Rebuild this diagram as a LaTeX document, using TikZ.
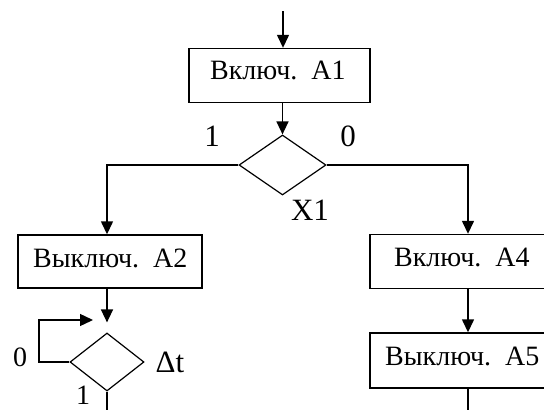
\documentclass[tikz,border=0pt]{standalone}
\usepackage{fontspec}
\setmainfont{Liberation Serif}
\usetikzlibrary{shapes.geometric,arrows.meta}
\begin{document}
\begin{tikzpicture}[x=1pt,y=-1pt,
  line/.style={line width=1.4pt},
  flow/.style={line, -{Triangle[length=13pt,width=12pt]}},
  box/.style={draw, line width=1.4pt, rectangle, minimum height=54pt, inner sep=0pt},
  cond/.style={draw, line width=1.2pt, diamond, inner sep=0pt},
  boxtext/.style={anchor=base west, inner sep=0pt, font=\fontsize{28}{32}\selectfont},
  lbl/.style={inner sep=0pt, font=\fontsize{31}{36}\selectfont},
  lblsmall/.style={inner sep=0pt, font=\fontsize{28}{32}\selectfont},
]
\useasboundingbox (0,0) rectangle (544,410);
\clip (0,0) rectangle (544,410);

% action boxes (the right-hand column runs past the right edge)
\node[box, minimum width=181pt] (A1) at (279.5,75.5) {};
\node[boxtext] (tA1) at (210,79) {Включ.\ \ A1};
\node[box, minimum width=184pt, minimum height=53pt] (A2) at (110,261.5) {};
\node[boxtext] (tA2) at (33,267) {Выключ.\ \ A2};
\node[box, minimum width=196pt] (A4) at (468,261.5) {};
\node[boxtext] (tA4) at (394,266) {Включ.\ \ A4};
\node[box, minimum width=196pt, minimum height=55pt] (A5) at (468,360.5) {};
\node[boxtext] (tA5) at (385,365) {Выключ.\ \ A5};

% decisions
\node[cond, minimum width=87pt, minimum height=60pt] (X1) at (282.5,165) {};
\node[cond, minimum width=74pt, minimum height=58pt] (dt) at (107,362) {};

% branch labels
\node[lbl] (l1) at (212,136) {1};
\node[lbl] (l0) at (348,136) {0};
\node[lbl] (lX1) at (310,210) {X1};
\node[lblsmall] (ldt0) at (20,357) {0};
\node[lbl] (ldt) at (170,362) {Δt};
\node[lblsmall] (ldt1) at (83,395) {1};

% free ends
\coordinate (in) at (283,11);
\coordinate (outL) at (107,412);
\coordinate (outR) at (468,412);
\coordinate (loopL) at (39,320);
\coordinate (loopEnd) at (93,320);

% connectors
\draw[flow] (in) -- (in |- A1.north);
\draw[flow] (X1.north |- A1.south) -- (X1.north);
\draw[flow] (X1.west) -| (dt.north |- A2.north);
\draw[flow] (X1.east) -| (A4.north);
\draw[flow] (A4.south) -- (A5.north);
\draw[flow, shorten >=10pt] (dt.north |- A2.south) -- (dt.north);
\draw[flow] (dt.west) -| (loopL) -- (loopEnd);
\draw[line] (dt.south) -- (outL);
\draw[line] (A5.south) -- (outR);
\end{tikzpicture}
\end{document}
